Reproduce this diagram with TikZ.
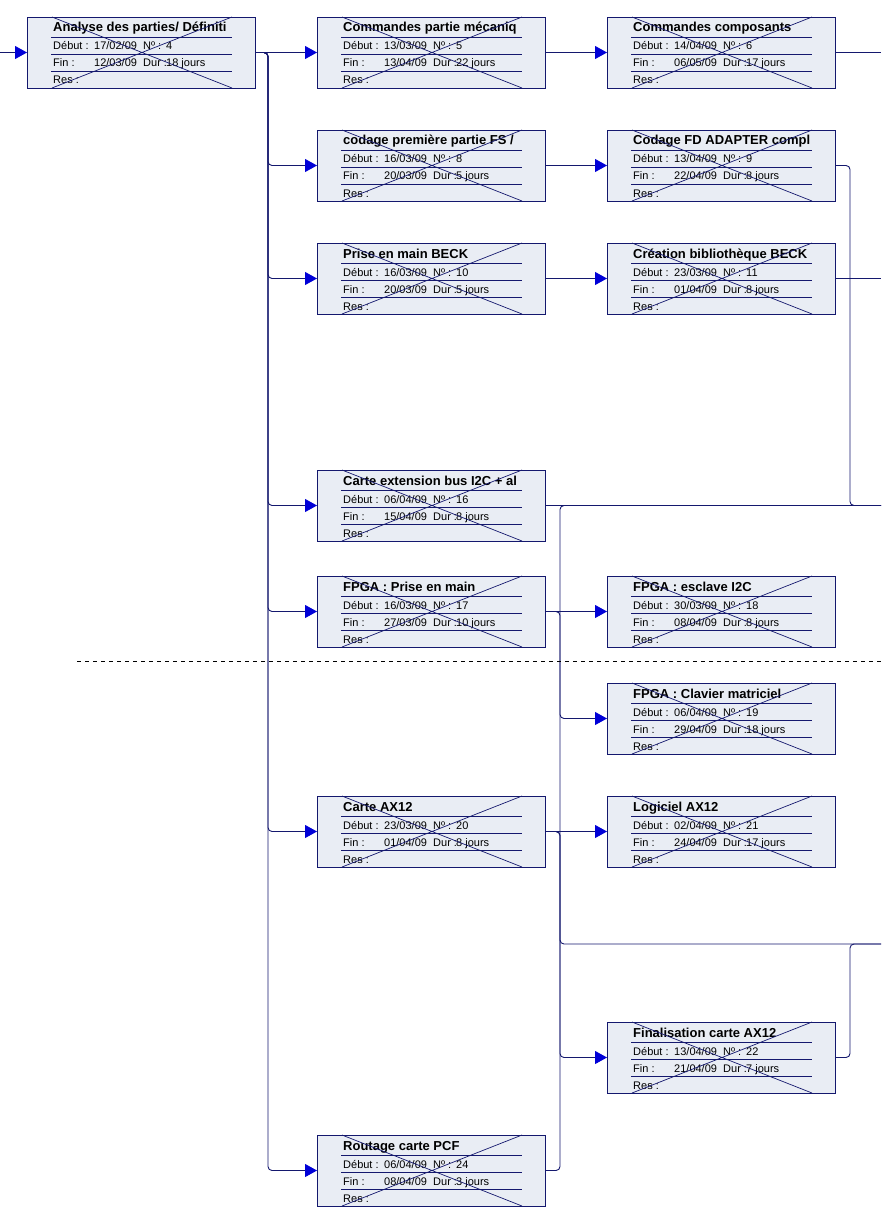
\documentclass[tikz,border=0pt]{standalone}
\usepackage{fontspec}
\setmainfont{Liberation Sans}
\usepackage{xcolor}
\usepackage{tikz}
\usetikzlibrary{arrows.meta,positioning}

\definecolor{boxline}{RGB}{20,24,110}
\definecolor{boxfill}{RGB}{233,237,244}
\definecolor{tipblue}{RGB}{0,0,215}

\begin{document}
\begin{tikzpicture}[x=1pt,y=-1pt,
      task/.style={draw=boxline,fill=boxfill,line width=0.8pt,minimum width=228pt,
                   minimum height=71pt,inner sep=0pt,outer sep=0pt},
      row/.style={draw=boxline,line width=0.7pt},
      ttl/.style={font=\fontsize{13}{13}\selectfont\bfseries,anchor=base west,inner sep=0pt},
      txt/.style={font=\fontsize{11}{11}\selectfont,anchor=base west,inner sep=0pt},
      link/.style={draw=boxline,line width=0.9pt,rounded corners=4pt},
      arr/.style={link,-{Triangle[length=12pt,width=13pt,color=tipblue]}},
      pagebreak/.style={black,line width=0.8pt,dash pattern=on 4pt off 4pt},
  ]
  \useasboundingbox (0,0) rectangle (881,1217);

  % Task boxes
  \node[task,anchor=north west] (t4) at (27,17) {};
  \node[task,right=62pt of t4] (t5) {};
  \node[task,right=62pt of t5] (t6) {};
  \node[task,below=42pt of t5] (t8) {};
  \node[task,right=62pt of t8] (t9) {};
  \node[task,below=42pt of t8] (t10) {};
  \node[task,right=62pt of t10] (t11) {};
  \node[task,below=156pt of t10] (t16) {};
  \node[task,below=35pt of t16] (t17) {};
  \node[task,right=62pt of t17] (t18) {};
  \node[task,below=36pt of t18] (t19) {};
  \node[task,below=149pt of t17] (t20) {};
  \node[task,right=62pt of t20] (t21) {};
  \node[task,below=155pt of t21] (t22) {};
  \node[task,below=268pt of t20] (t24) {};

  % Box contents
  \foreach \id/\ttext/\deb/\num/\fin/\dur in {
      t4/{Analyse des parties/ Définiti}/{17/02/09}/4/{12/03/09}/18 jours,
      t5/{Commandes partie mécaniq}/{13/03/09}/5/{13/04/09}/22 jours,
      t6/{Commandes composants}/{14/04/09}/6/{06/05/09}/17 jours,
      t8/{codage première partie FS /}/{16/03/09}/8/{20/03/09}/5 jours,
      t9/{Codage FD ADAPTER compl}/{13/04/09}/9/{22/04/09}/8 jours,
      t10/{Prise en main BECK}/{16/03/09}/10/{20/03/09}/5 jours,
      t11/{Création bibliothèque BECK}/{23/03/09}/11/{01/04/09}/8 jours,
      t16/{Carte extension bus I2C + al}/{06/04/09}/16/{15/04/09}/8 jours,
      t17/{FPGA : Prise en main}/{16/03/09}/17/{27/03/09}/10 jours,
      t18/{FPGA : esclave I2C}/{30/03/09}/18/{08/04/09}/8 jours,
      t19/{FPGA : Clavier matriciel}/{06/04/09}/19/{29/04/09}/18 jours,
      t20/{Carte AX12}/{23/03/09}/20/{01/04/09}/8 jours,
      t21/{Logiciel AX12}/{02/04/09}/21/{24/04/09}/17 jours,
      t22/{Finalisation carte AX12}/{13/04/09}/22/{21/04/09}/7 jours,
      t24/{Routage carte PCF}/{06/04/09}/24/{08/04/09}/3 jours} {
    \begin{scope}[shift={(\id.north west)}]
      \node[ttl] at (26,15) {\ttext};
      \node[txt] at (26,33) {Début :};
      \node[txt] at (67,33) {\deb};
      \node[txt] at (116,33) {Nº :};
      \node[txt] at (139,33) {\num};
      \node[txt] at (26,50) {Fin :};
      \node[txt] at (67,50) {\fin};
      \node[txt] at (116,50) {Dur :};
      \node[txt] at (139,50) {\dur};
      \node[txt] at (26,67) {Res :};
      \draw[row] (24,20.5) -- (205,20.5) (24,37.5) -- (205,37.5) (24,54.5) -- (205,54.5);
      \draw[row] (25,0) -- (205,71) (25,71) -- (205,0);
    \end{scope}
  }

  % Free ends
  \coordinate (left) at (0,0);
  \coordinate (edge) at (881,0);
  \coordinate (in) at (t4.west -| left);
  \coordinate (x6) at (t6.east -| edge);
  \coordinate (x11) at (t11.east -| edge);
  \coordinate (x16) at (t16.east -| edge);
  \coordinate (x22) at (881,944);
  \coordinate (pb1) at (77,661);
  \coordinate (pb2) at (881,661);

  % Links
  \draw[arr] (in) -- (t4);
  \draw[arr] (t4) -- (t5);
  \foreach \t in {t8,t10,t16,t17,t20,t24}
    \draw[arr] (t4.east) -- ++(13,0) |- (\t.west);
  \draw[arr] (t5) -- (t6);
  \draw[link] (t6) -- (x6);
  \draw[arr] (t8) -- (t9);
  \draw[link] (t9.east) -- ++(15,0) |- (x16);
  \draw[arr] (t10) -- (t11);
  \draw[link] (t11) -- (x11);
  \draw[link] (t16) -- (x16);
  \draw[link] (t24.east) -- ++(15,0) |- (x16);
  \draw[arr] (t17) -- (t18);
  \draw[arr] (t17.east) -- ++(15,0) |- (t19.west);
  \draw[arr] (t20) -- (t21);
  \draw[arr] (t20.east) -- ++(15,0) |- (t22.west);
  \draw[link] (t20.east) -- ++(15,0) |- (x22);
  \draw[link] (t22.east) -- ++(15,0) |- (x22);

  % Page break
  \draw[pagebreak] (pb1) -- (pb2);
\end{tikzpicture}
\end{document}
